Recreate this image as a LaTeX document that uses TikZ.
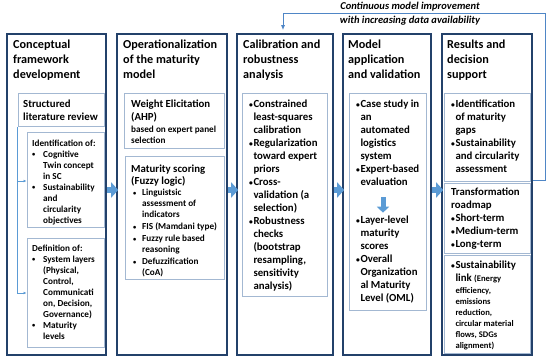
\documentclass[tikz,border=0pt]{standalone}
\usepackage{graphicx}
\usepackage{fontspec}
\setmainfont{Carlito}
\usetikzlibrary{arrows.meta,fit}
\definecolor{navy}{HTML}{23416A}
\definecolor{inb}{HTML}{A3B8D2}
\definecolor{arr}{HTML}{5B9BD5}
\definecolor{fbc}{HTML}{4F86C6}
\newcommand{\tfont}{\fontsize{12.2}{15}\selectfont\bfseries}
\newcommand{\mfont}{\fontsize{10.8}{13}\selectfont\bfseries}
\newcommand{\sfont}{\fontsize{9.2}{11}\selectfont\bfseries}
\newcommand{\xfont}{\fontsize{8.6}{11}\selectfont\bfseries}
\newcommand{\blk}[2]{{#1\begin{tabular}[t]{@{}l@{}}#2\end{tabular}}}
\newcommand{\dotb}{\raisebox{0.08em}{\scalebox{0.7}{•}}}
\newcommand{\bt}{\makebox[4.3pt][l]{\dotb}}
\newcommand{\ct}{\hspace*{4.3pt}}
\newcommand{\bw}{\makebox[11pt][l]{\dotb}}
\newcommand{\cw}{\hspace*{11pt}}
\newcommand{\bm}{\makebox[9pt][l]{\dotb}}
\newcommand{\cm}{\hspace*{9pt}}
\tikzset{
  outer/.style={draw=navy, line width=1.6pt, inner sep=0pt, fill=none},
  inbox/.style={draw=inb, line width=1pt, inner sep=0pt},
  txt/.style={anchor=base west, inner sep=0pt},
  bigarrow/.style={draw=arr, line width=6pt, -{Triangle[width=15pt,length=7pt]}},
  downarrow/.style={draw=arr, line width=5pt, -{Triangle[width=12pt,length=6pt]}},
  brk/.style={draw=arr, line width=0.6pt, -{Latex[length=3pt,width=3pt]}},
  fbline/.style={draw=fbc, line width=1pt, -{Latex[length=5pt,width=4pt]}}
}
\begin{document}
\begin{tikzpicture}[x=1pt,y=-1pt]
\useasboundingbox (0,0) rectangle (550,361);
% outer columns
\node[outer, fit={(7,34) (106,355)}] (c1) {};
\node[outer, fit={(117,34) (227,355)}] (c2) {};
\node[outer, fit={(237,34) (333,355)}] (c3) {};
\node[outer, fit={(343,34) (431,355)}] (c4) {};
\node[outer, fit={(442,34) (532,355)}] (c5) {};
% titles
\node[txt] (h1) at (13,49) {\blk{\tfont}{Conceptual\\framework\\development}};
\node[txt] (h2) at (123,49) {\blk{\tfont}{Operationalization\\of the maturity\\model}};
\node[txt] (h3) at (243,49) {\blk{\tfont}{Calibration and\\robustness\\analysis}};
\node[txt] (h4) at (348,49) {\blk{\tfont}{Model\\application\\and validation}};
\node[txt] (h5) at (447,49) {\blk{\tfont}{Results and\\decision\\support}};
% inner boxes
\node[inbox, fit={(18,94) (104,127)}] (c1s) {};
\node[inbox, fit={(27,133) (104,228)}] (c1i) {};
\node[inbox, fit={(27,239) (104,347)}] (c1d) {};
\node[inbox, fit={(124,94) (224,149)}] (c2w) {};
\node[inbox, fit={(125,157) (224,279)}] (c2m) {};
\node[inbox, fit={(242,94) (327,296)}] (c3b) {};
\node[inbox, fit={(349,94) (426,310)}] (c4b) {};
\node[inbox, fit={(444,94) (530,182)}] (c5a) {};
\node[inbox, fit={(444,184) (530,253)}] (c5b) {};
\node[inbox, fit={(444,255) (530,353)}] (c5c) {};
% column 1 texts
\node[txt] (t1s) at (23,108) {\blk{\mfont}{Structured\\literature review}};
\node[txt] (t1i) at (32,146.5) {\blk{\sfont}{Identification of:\\\bw Cognitive\\\cw Twin concept\\\cw in SC\\\bw Sustainability\\\cw and\\\cw circularity\\\cw objectives}};
\node[txt] (t1d) at (32,251.5) {\blk{\sfont}{Definition of:\\\bw System layers\\\cw (Physical,\\\cw Control,\\\cw Communicati\\\cw on, Decision,\\\cw Governance)\\\bw Maturity\\\cw levels}};
% column 2 texts
\node[txt] (t2w) at (131,108) {\blk{\mfont}{Weight Elicitation\\(AHP)}};
\node[txt] (t2e) at (131,133) {\blk{\sfont}{based on expert panel\\selection}};
\node[txt] (t2m) at (131,172) {\blk{\mfont}{Maturity scoring\\(Fuzzy logic)}};
\node[txt] (t2b) at (133,196) {\blk{\sfont}{\bm Linguistsic\\\cm assessment of\\\cm indicators\\[1pt]\bm FIS (Mamdani type)\\[1pt]\bm Fuzzy rule based\\\cm reasoning\\[1pt]\bm Defuzzification\\\cm (CoA)}};
% column 3 text
\node[txt] (t3) at (249,108) {\blk{\mfont}{\bt Constrained\\\ct least-squares\\\ct calibration\\\bt Regularization\\\ct toward expert\\\ct priors\\\bt Cross-\\\ct validation (a\\\ct selection)\\\bt Robustness\\\ct checks\\\ct (bootstrap\\\ct resampling,\\\ct sensitivity\\\ct analysis)}};
% column 4 texts
\node[txt] (t4a) at (356,108) {\blk{\mfont}{\bt Case study in\\\ct an\\\ct automated\\\ct logistics\\\ct system\\\bt Expert-based\\\ct evaluation}};
\node[txt] (t4b) at (356,224) {\blk{\mfont}{\bt Layer-level\\\ct maturity\\\ct scores\\\bt Overall\\\ct Organization\\\ct al Maturity\\\ct Level (OML)}};
% column 5 texts
\node[txt] (t5a) at (451,108) {\blk{\mfont}{\bt Identification\\\ct of maturity\\\ct gaps\\\bt Sustainability\\\ct and circularity\\\ct assessment}};
\node[txt] (t5b) at (451,196) {\blk{\mfont}{Transformation\\roadmap\\\bt Short-term\\\bt Medium-term\\\bt Long-term}};
\node[txt] (t5c) at (451,269) {\blk{\mfont}{\bt Sustainability\\\ct link {\xfont(Energy}}};
\node[txt] (t5d) at (455.3,294) {\blk{\xfont}{efficiency,\\emissions\\reduction,\\circular material\\flows, SDGs\\alignment)}};
% feedback text
\node[anchor=base, inner sep=0pt] (fbt) at (410,10) {{\fontsize{10.5}{14}\selectfont\bfseries\itshape\begin{tabular}[t]{@{}c@{}}Continuous model improvement\\with increasing data availability\end{tabular}}};
% helper coordinates
\coordinate (ya) at (0,190);
\coordinate (bx) at (17,0);
\coordinate (y181) at (0,181);
\coordinate (y293) at (0,293);
\coordinate (ax) at (383,0);
\coordinate (fbr) at (545,14);
\coordinate (fbl) at (283,14);
% big arrows between columns
\draw[bigarrow] (c1.east |- ya) -- ([xshift=2pt]c2.west |- ya);
\draw[bigarrow] (c2.east |- ya) -- ([xshift=2pt]c3.west |- ya);
\draw[bigarrow] (c3.east |- ya) -- ([xshift=2pt]c4.west |- ya);
\draw[bigarrow] (c4.east |- ya) -- ([xshift=2pt]c5.west |- ya);
% down arrow in column 4
\draw[downarrow] ([yshift=-7pt]t4a.south -| ax) -- ([yshift=2pt]t4b.north -| ax);
% bracket in column 1
\draw[brk] (c1s.south -| bx) |- (c1d.west |- y293);
\draw[brk] (bx |- y181) -- (c1i.west |- y181);
% feedback loop
\draw[fbline, shorten >=3pt] (c5.east |- y181) -| (fbr) -- (fbl) -- (c3.north -| fbl);
\end{tikzpicture}
\end{document}
